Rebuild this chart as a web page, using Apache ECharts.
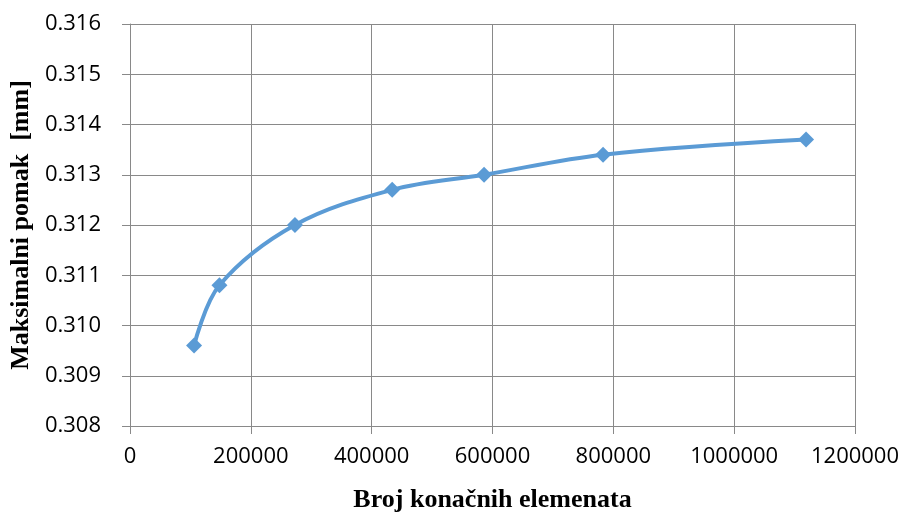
<!DOCTYPE html>
<html><head><meta charset="utf-8">
<script src="https://cdn.jsdelivr.net/npm/echarts@6/dist/echarts.min.js"></script>
<style>html,body{margin:0;padding:0;background:#fff}#c{width:906px;height:514px}</style>
</head><body><div id="c"></div>
<script>
const elements = [106000, 148000, 273000, 434000, 586000, 783000, 1119000];
const displacement = [0.3096, 0.3108, 0.3120, 0.3127, 0.3130, 0.3134, 0.3137];
const xTitle = 'Broj konačnih elemenata';
const yTitle = 'Maksimalni pomak  [mm]';

const chart = echarts.init(document.getElementById('c'));
const gridColor = '#898989';
chart.setOption({
  animation: false,
  grid: {left: 130, right: 51, top: 24, bottom: 88, containLabel: false, outerBoundsMode: 'none'},
  xAxis: {
    type: 'value', min: 0, max: 1200000, interval: 200000,
    name: xTitle, nameLocation: 'middle', nameGap: 61,
    nameTextStyle: {fontFamily: 'Liberation Serif', fontWeight: 'bold', fontSize: 26, color: '#000'},
    axisLine: {show: true, lineStyle: {color: gridColor}},
    axisTick: {show: true, length: 8, lineStyle: {color: gridColor}},
    axisLabel: {fontFamily: 'Open Sans', fontSize: 22, color: '#000', margin: 20,
      formatter: v => String(v)},
    splitLine: {show: true, lineStyle: {color: gridColor, width: 1}}
  },
  yAxis: {
    type: 'value', min: 0.308, max: 0.316, interval: 0.001,
    name: yTitle, nameLocation: 'middle', nameGap: 90, nameRotate: 90,
    nameTextStyle: {fontFamily: 'Liberation Serif', fontWeight: 'bold', fontSize: 26, color: '#000'},
    axisLine: {show: true, lineStyle: {color: gridColor}},
    axisTick: {show: true, length: 8, lineStyle: {color: gridColor}},
    axisLabel: {fontFamily: 'Open Sans', fontSize: 22, color: '#000', margin: 29,
      formatter: v => v.toFixed(3)},
    splitLine: {show: true, lineStyle: {color: gridColor, width: 1}}
  },
  series: [{
    type: 'line',
    data: elements.map((x, i) => [x, displacement[i]]),
    smooth: 0.35,
    symbol: 'diamond', symbolSize: 16,
    itemStyle: {color: '#5b9bd5'},
    lineStyle: {color: '#5b9bd5', width: 4}
  }]
});
</script></body></html>
